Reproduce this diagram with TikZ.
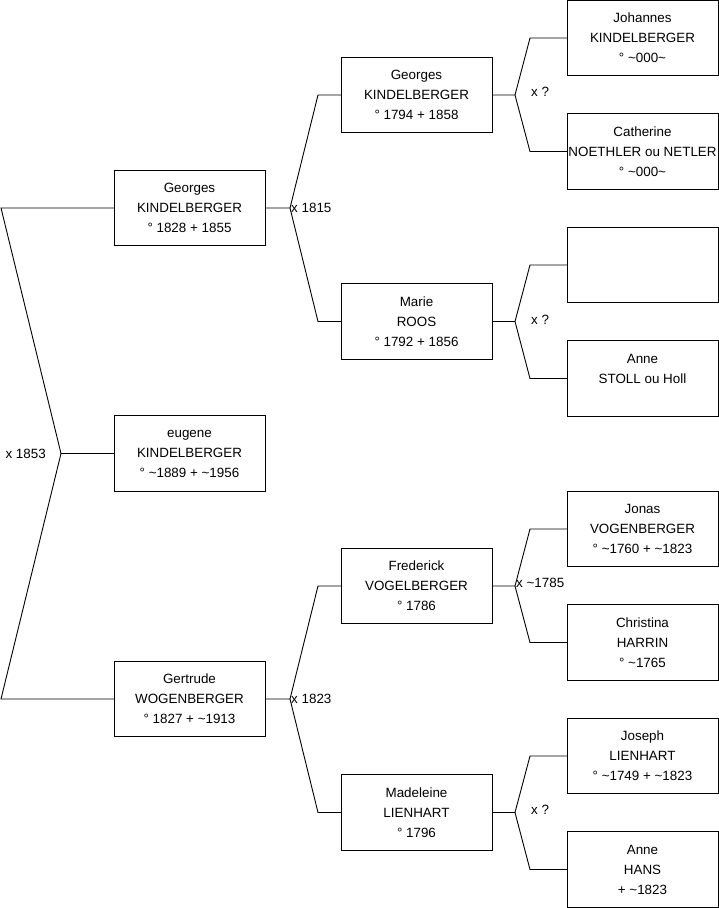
\documentclass[tikz,border=0pt]{standalone}
\usepackage{fontspec}
\setmainfont{Liberation Sans}
\usetikzlibrary{positioning}

\begin{document}
\begin{tikzpicture}[x=1pt, y=-1pt, font=\fontsize{13.4}{20}\selectfont,
    pers/.style={draw, line width=1pt, outer sep=0pt, inner sep=2pt, minimum width=151pt, minimum height=75.5pt, align=center},
    lien/.style={line width=0.9pt},
    mariage/.style={inner sep=1pt}]
  \useasboundingbox (0,0) rectangle (719,908);
  % enfant
  \node[pers] (eug) at (189.5,453.5) {eugene\\KINDELBERGER\\° \textasciitilde1889 + \textasciitilde1956};
  % parents
  \node[pers] (geo) at (189.5,208) {Georges\\KINDELBERGER\\° 1828 + 1855};
  \node[pers] (ger) at (189.5,699) {Gertrude\\WOGENBERGER\\° 1827 + \textasciitilde1913};
  % grands-parents
  \node[pers] (geop) at (416.5,95) {Georges\\KINDELBERGER\\° 1794 + 1858};
  \node[pers] (mar) at (416.5,321.5) {Marie\\ROOS\\° 1792 + 1856};
  \node[pers] (fre) at (416.5,586) {Frederick\\VOGELBERGER\\° 1786};
  \node[pers] (mad) at (416.5,812.5) {Madeleine\\LIENHART\\° 1796};
  % arriere-grands-parents
  \node[pers] (joh) at (642.5,38) {Johannes\\KINDELBERGER\\° \textasciitilde000\textasciitilde};
  \node[pers, below=38pt of joh] (cat) {Catherine\\\makebox[0pt]{NOETHLER ou NETLER}\\° \textasciitilde000\textasciitilde};
  \node[pers, below=38pt of cat] (inc) {};
  \node[pers, below=38pt of inc] (ann) {Anne\\STOLL ou Holl\\\mbox{}};
  \node[pers] (jon) at (642.5,529) {Jonas\\VOGENBERGER\\° \textasciitilde1760 + \textasciitilde1823};
  \node[pers, below=38pt of jon] (chr) {Christina\\HARRIN\\° \textasciitilde1765};
  \node[pers, below=38pt of chr] (jos) {Joseph\\LIENHART\\° \textasciitilde1749 + \textasciitilde1823};
  \node[pers, below=38pt of jos] (anh) {Anne\\HANS\\+ \textasciitilde1823};

  % liens eugene
  \coordinate (m0) at (61,453.5);
  \coordinate (m0a) at (1,208);
  \coordinate (m0b) at (1,699);
  \draw[lien] (eug.west) -- (m0) -- (m0a) -- (geo.west);
  \draw[lien] (m0) -- (m0b) -- (ger.west);
  \node[mariage, anchor=east] (x0) at ([xshift=-14pt]m0) {x 1853};

  % liens Georges
  \draw[lien] (geo.east) -- ([xshift=25pt]geo.east) coordinate (m1)
    -- ([xshift=-23pt]geop.west) -- (geop.west);
  \draw[lien] (m1) -- ([xshift=-23pt]mar.west) -- (mar.west);
  \node[mariage, anchor=west] (x1) at (m1) {x 1815};

  % liens Gertrude
  \draw[lien] (ger.east) -- ([xshift=25pt]ger.east) coordinate (m2)
    -- ([xshift=-23pt]fre.west) -- (fre.west);
  \draw[lien] (m2) -- ([xshift=-23pt]mad.west) -- (mad.west);
  \node[mariage, anchor=west] (x2) at (m2) {x 1823};

  % liens Georges pere
  \draw[lien] (geop.east) -- ([xshift=23pt]geop.east) coordinate (m3)
    -- ([xshift=-37pt]joh.west) -- (joh.west);
  \draw[lien] (m3) -- ([xshift=-37pt]cat.west) -- (cat.west);
  \node[mariage, anchor=west] (x3) at ([xshift=15pt, yshift=3pt]m3) {x ?};

  % liens Marie
  \draw[lien] (mar.east) -- ([xshift=23pt]mar.east) coordinate (m4)
    -- ([xshift=-37pt]inc.west) -- (inc.west);
  \draw[lien] (m4) -- ([xshift=-37pt]ann.west) -- (ann.west);
  \node[mariage, anchor=west] (x4) at ([xshift=15pt, yshift=2pt]m4) {x ?};

  % liens Frederick
  \draw[lien] (fre.east) -- ([xshift=23pt]fre.east) coordinate (m5)
    -- ([xshift=-37pt]jon.west) -- (jon.west);
  \draw[lien] (m5) -- ([xshift=-37pt]chr.west) -- (chr.west);
  \node[mariage, anchor=west] (x5) at ([yshift=3pt]m5) {x \textasciitilde1785};

  % liens Madeleine
  \draw[lien] (mad.east) -- ([xshift=23pt]mad.east) coordinate (m6)
    -- ([xshift=-37pt]jos.west) -- (jos.west);
  \draw[lien] (m6) -- ([xshift=-37pt]anh.west) -- (anh.west);
  \node[mariage, anchor=west] (x6) at ([xshift=15pt, yshift=3pt]m6) {x ?};
\end{tikzpicture}
\end{document}
